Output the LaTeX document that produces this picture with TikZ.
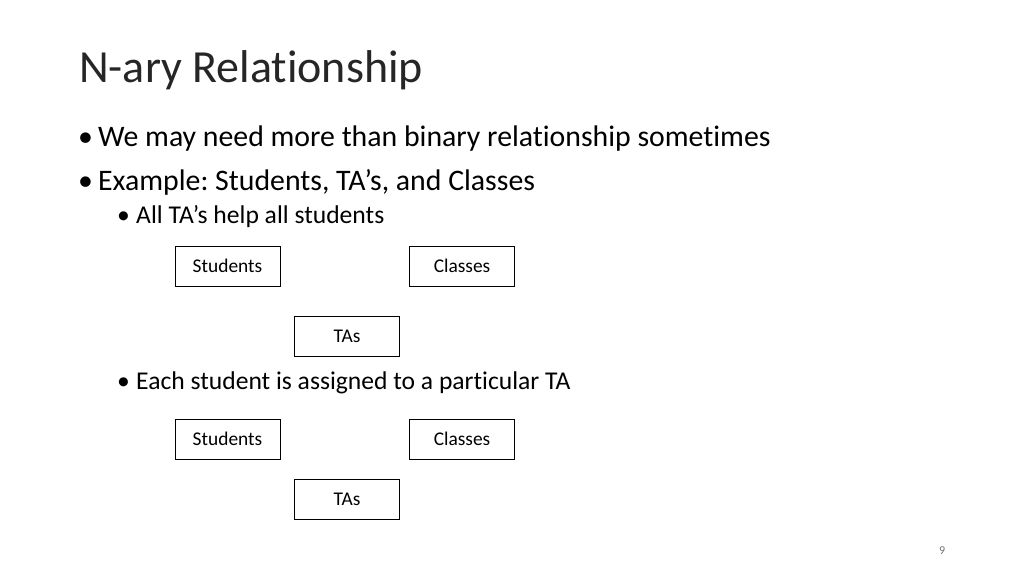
\documentclass[tikz,border=0pt]{standalone}
\usepackage{fontspec}
\setmainfont{Carlito}[Ligatures={NoCommon}]
\frenchspacing
\begin{document}
\begin{tikzpicture}[x=1pt,y=-1pt,
  box/.style={draw,line width=1pt,minimum width=105pt,minimum height=40pt,inner sep=0pt,font=\fontsize{19.4}{22}\selectfont},
  txt/.style={anchor=base west,inner sep=0pt}]
\useasboundingbox (0,0) rectangle (1024,576);
\node[txt,font=\fontsize{46}{52}\selectfont,text=black!85] (title) at (79,82) {N-ary Relationship};
\node[txt,font=\fontsize{29.8}{34}\selectfont] (b1) at (78,146) {•};
\node[txt,font=\fontsize{29.8}{34}\selectfont] (t1) at (98,146) {We may need more than binary relationship sometimes};
\node[txt,font=\fontsize{29.8}{34}\selectfont] (b2) at (78,190) {•};
\node[txt,font=\fontsize{29.8}{34}\selectfont] (t2) at (98,190) {Example: Students, TA’s, and Classes};
\node[txt,font=\fontsize{25.6}{30}\selectfont] (b3) at (117,223) {•};
\node[txt,font=\fontsize{25.6}{30}\selectfont] (t3) at (136,223) {All TA’s help all students};
\node[txt,font=\fontsize{25.6}{30}\selectfont] (b4) at (117,389) {•};
\node[txt,font=\fontsize{25.6}{30}\selectfont] (t4) at (136,389) {Each student is assigned to a particular TA};
\node[box] (s1) at (227.5,266) {Students};
\node[box] (c1) at (462,266) {Classes};
\node[box] (a1) at (347,336) {TAs};
\node[box] (s2) at (227.5,439) {Students};
\node[box] (c2) at (462,439) {Classes};
\node[box] (a2) at (347,499) {TAs};
\node[txt,font=\fontsize{12}{14}\selectfont,text=black!55] (pg) at (939,554) {9};
\end{tikzpicture}
\end{document}
